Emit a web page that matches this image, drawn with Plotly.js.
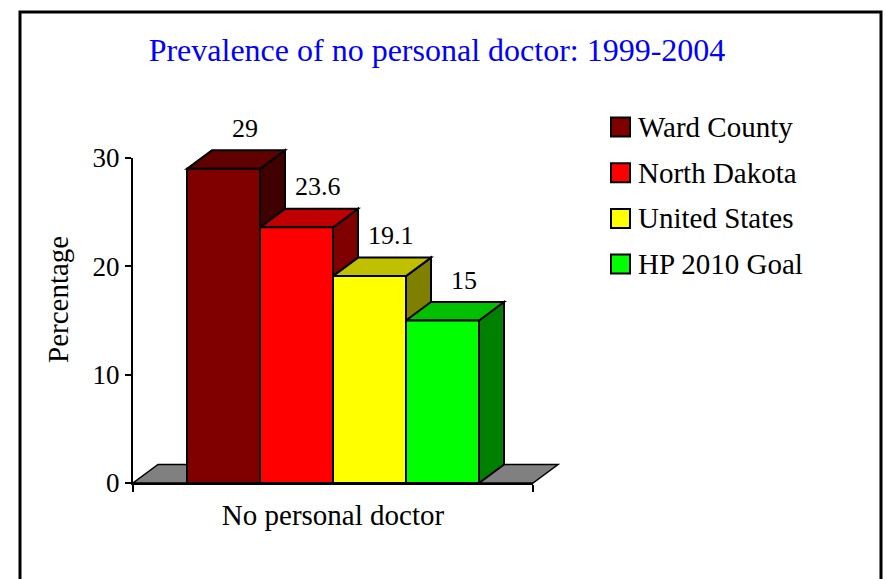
<!DOCTYPE html>
<html>
<head>
<meta charset="utf-8">
<script src="https://cdn.plot.ly/plotly-3.0.1.min.js"></script>
<style>
  body { margin: 0; background: #fff; }
  #plot { width: 886px; height: 579px; }
</style>
</head>
<body>
<div id="plot"></div>
<script>
// data
const category = 'No personal doctor';
const series = ['Ward County', 'North Dakota', 'United States', 'HP 2010 Goal'];
const values = [29, 23.6, 19.1, 15];
const yTicks = [0, 10, 20, 30];

// front / top / side colours of each bar
const frontCol = ['#800000', '#ff0000', '#ffff00', '#00ff00'];
const topCol = ['#600000', '#c00000', '#c0c000', '#00c000'];
const sideCol = ['#400000', '#800000', '#808000', '#008000'];

const W = 886, H = 579;
const L = 133, R = 533, T = 158, B = 483;   // plot area in px
const yMax = 30;
const bargap = 0.27;
const serif = 'Liberation Serif';

// px -> paper helpers (for layout decorations)
const pxX = p => (p - L) / (R - L);
const pxY = p => (B - p) / (B - T);

// depth of the fake 3d
const dx = 25 / (R - L);
const dy = 18.5 / (B - T);

// x data -> paper (range is -0.5..0.5), value -> paper
const dataX = x => x + 0.5;
const dataY = v => v / yMax;

const traces = series.map((name, i) => ({
  type: 'bar',
  name: name,
  x: [category],
  y: [values[i]],
  marker: {color: frontCol[i], line: {color: '#000', width: 2}},
  showlegend: false,
  hoverinfo: 'y'
}));

const shapes = [];
const annotations = [];

// floor
shapes.push({
  type: 'path', xref: 'paper', yref: 'paper', layer: 'below',
  path: `M0,0 L1,0 L${1 + dx},${dy} L${dx},${dy} Z`,
  fillcolor: '#808080', line: {color: '#000', width: 1.5}
});

const groupW = 1 - bargap;
const barW = groupW / series.length;
values.forEach((v, i) => {
  const x0 = dataX(-groupW / 2 + i * barW);
  const x1 = x0 + barW;
  const y = dataY(v);
  // side
  shapes.push({
    type: 'path', xref: 'paper', yref: 'paper', layer: 'below',
    path: `M${x1},0 L${x1},${y} L${x1 + dx},${y + dy} L${x1 + dx},${dy} Z`,
    fillcolor: sideCol[i], line: {color: '#000', width: 2}
  });
  // top
  shapes.push({
    type: 'path', xref: 'paper', yref: 'paper', layer: 'below',
    path: `M${x0},${y} L${x1},${y} L${x1 + dx},${y + dy} L${x0 + dx},${y + dy} Z`,
    fillcolor: topCol[i], line: {color: '#000', width: 2}
  });
  annotations.push({
    xref: 'paper', yref: 'paper',
    x: (x0 + x1) / 2 + dx * 0.85, y: y + dy,
    xanchor: 'center', yanchor: 'middle', yshift: 22,
    text: String(v), showarrow: false,
    font: {family: serif, size: 26, color: '#000'}
  });
});

// legend, drawn by hand so the boxes get the right size
series.forEach((name, i) => {
  const cy = 127 + i * 45.7;
  shapes.push({
    type: 'rect', xref: 'paper', yref: 'paper',
    x0: pxX(611), x1: pxX(630), y0: pxY(cy - 9.5), y1: pxY(cy + 9.5),
    fillcolor: frontCol[i], line: {color: '#000', width: 2}
  });
  annotations.push({
    xref: 'paper', yref: 'paper', x: pxX(636), y: pxY(cy),
    xanchor: 'left', yanchor: 'middle', text: name, showarrow: false,
    font: {family: serif, size: 29, color: '#000'}
  });
});

// y axis title, sits a bit above the middle of the axis in the original
annotations.push({
  xref: 'paper', yref: 'paper', x: pxX(58), y: pxY(300),
  xanchor: 'center', yanchor: 'middle', textangle: -90,
  text: 'Percentage', showarrow: false,
  font: {family: serif, size: 29, color: '#000'}
});

// outer frame
shapes.push({
  type: 'path', xref: 'paper', yref: 'paper',
  path: `M${pxX(20)},${pxY(600)} L${pxX(20)},${pxY(12)} L${pxX(881)},${pxY(12)} L${pxX(881)},${pxY(600)}`,
  line: {color: '#000', width: 3}
});

const layout = {
  width: W, height: H,
  margin: {l: L, r: W - R, t: T, b: H - B, pad: 0},
  paper_bgcolor: '#fff',
  plot_bgcolor: 'rgba(0,0,0,0)',
  barmode: 'group',
  bargap: bargap,
  bargroupgap: 0,
  font: {family: serif, size: 24, color: '#000'},
  title: {
    text: 'Prevalence of no personal doctor: 1999-2004',
    font: {family: serif, size: 32, color: '#0000ff'},
    x: 437 / W, xanchor: 'center', xref: 'container',
    yref: 'container', y: 1 - 50 / H, yanchor: 'middle'
  },
  xaxis: {
    type: 'category',
    range: [-0.5, 0.5],
    showline: true, linecolor: '#000', linewidth: 2,
    ticks: 'outside', tickson: 'boundaries', ticklen: 7, tickwidth: 2, tickcolor: '#000',
    ticklabelstandoff: 5,
    showgrid: false, zeroline: false,
    tickfont: {family: serif, size: 29}
  },
  yaxis: {
    range: [0, yMax],
    tickvals: yTicks,
    showline: true, linecolor: '#000', linewidth: 2,
    ticks: 'outside', ticklen: 6, tickwidth: 2, tickcolor: '#000',
    showgrid: false, zeroline: false,
    tickfont: {family: serif, size: 27}
  },
  shapes: shapes,
  annotations: annotations,
  showlegend: false
};

Plotly.newPlot('plot', traces, layout, {displayModeBar: false, staticPlot: true});
</script>
</body>
</html>
